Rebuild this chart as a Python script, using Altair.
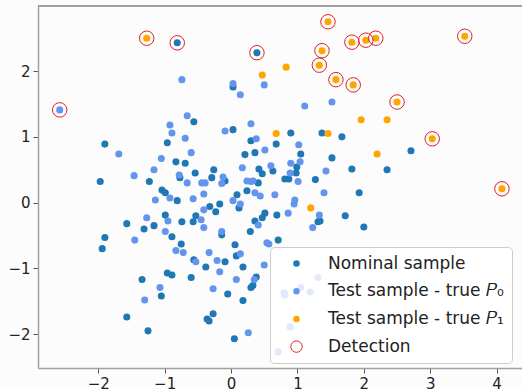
import altair as alt
import pandas as pd

# Nominal sample (dark blue)
nominal_x = [-0.81, 0.39, 2.71, 1.82, 2.35, 1.67, 0.90, 1.37, 0.68, 0.36, 1.05, 1.52, 0.99, 0.42, 0.63,
             0.98, 0.47, 0.81, 0.87, 1.27, 0.41, -0.56, 0.03, 0.03, -0.96, 0.30, 0.21, -0.83, -0.69,
             -0.26, -0.54, -0.77, -0.29, -0.09, -1.90, -1.97, -1.23, -1.04, -0.99, -1.57, -1.31, -1.16,
             -1.90, -1.94, -1.34, -1.05, -1.57, -1.25, -0.81, 0.09, 0.24, 0.12, -0.17, -0.32, -0.23,
             -0.53, -0.57, -0.74, -0.99, -0.89, -0.14, 0.29, -0.75, 0.06, 0.08, -0.56, -0.09, -0.38,
             0.18, -0.96, -0.89, -0.60, 0.30, -0.05, 0.18, -0.27, -0.36, -0.33, 0.05, 1.93, 1.72, 2.00,
             1.34, 1.31, 0.69, 0.51, 0.47, 0.36, 0.71, 0.38, 0.33]
nominal_y = [2.43, 2.28, 0.79, 0.51, 0.50, 1.00, 1.06, 1.06, 0.89, 0.76, 0.74, 0.68, 0.54, 0.51, 0.48,
             0.45, 0.44, 0.36, 0.36, 0.35, 0.30, 1.23, 1.11, 1.76, 0.91, 0.94, 0.73, 0.62, 0.60,
             0.50, 0.45, 0.38, 0.38, 0.33, 0.89, 0.32, 0.32, 0.19, 0.15, -0.32, -0.40, -0.35,
             -0.53, -0.70, -1.17, -1.42, -1.74, -1.95, 0.03, 0.12, 0.18, -0.08, -0.02, -0.06, -0.14,
             -0.20, -0.29, -0.29, -0.19, -0.52, -0.49, -0.44, -0.63, -0.64, -0.81, -0.87, -0.90, -0.98,
             -0.98, -1.07, -1.10, -1.14, -1.29, -1.39, -1.49, -1.69, -1.77, -1.80, -2.07, 0.15, -0.20, -0.37,
             -0.28, -0.29, -0.19, -0.16, -0.23, -0.28, -0.57, -1.13, -1.26]

# Test sample - true P0 (light blue)
p0_x = [-2.58, 0.50, 1.11, 1.52, 0.38, 1.02, 0.51, 1.04, 0.90, 0.60, 0.89, 1.43, 1.01, 0.33,
        -0.74, 0.03, 0.14, -0.66, -0.92, -0.89, -0.09, 0.30, -0.69, -0.60, 0.17, -1.05, -0.78,
        -0.66, -0.44, -0.39, -0.14, 0.24, 0.30, -0.12, -1.69, -1.16, -1.46, -1.14, -1.27, -1.45,
        -1.07, -1.30, -0.92, -0.57, -0.41, 0.03, 0.14, -0.41, -0.45, -0.95, -0.41, -0.99, -0.14,
        -0.83, -0.72, 0.14, -0.33, -0.53, -0.21, -0.17, 0.08, -0.27, 0.26, 0.44, 0.36, 0.66, 1.40,
        0.96, 0.95, 1.33, 1.23, 0.86, 0.41, 0.54, 0.57, 0.50, 0.35, 0.80, 0.81, 1.05, 1.19, 1.31,
        0.89, 0.71]
p0_y = [1.41, 1.79, 1.47, 1.53, 0.97, 0.88, 0.80, 0.62, 0.60, 0.56, 0.45, 0.48, 0.32, 0.33,
        1.87, 1.81, 1.64, 1.32, 1.18, 1.06, 1.09, 1.20, 0.98, 0.76, 0.53, 0.67, 0.42,
        0.30, 0.30, 0.30, 0.29, 0.33, 0.32, 0.39, 0.74, 0.50, 0.41, 0.04, -0.23, -0.57,
        -1.29, -1.48, 0.07, 0.06, 0.13, 0.03, -0.02, -0.11, -0.26, -0.28, -0.38, -0.44, -0.44,
        -0.73, -0.76, -0.78, -0.76, -0.90, -0.88, -1.05, -1.17, -1.31, -1.98, 0.10, 0.15, 0.12, 0.15,
        0.04, -0.02, -0.19, -0.38, -0.16, -0.34, -0.61, -0.63, -0.95, -1.17, -1.37, -1.41, -1.29, -1.36, -1.14,
        -1.89, -2.27]

# Test sample - true P1 (orange)
p1_x = [-1.27, 1.46, 1.37, 1.33, 1.58, 1.82, 2.03, 2.18, 1.84, 2.50, 3.03, 3.52, 4.08,
        0.83, 0.47, 0.68, 1.46, 1.96, 2.35, 2.20, 1.20]
p1_y = [2.50, 2.75, 2.31, 2.09, 1.87, 2.44, 2.47, 2.50, 1.79, 1.53, 0.97, 2.53, 0.21,
        2.06, 1.94, 1.05, 1.05, 1.26, 1.26, 0.74, -0.08]

# Detections (red open circles)
det_x = [-1.27, 1.46, 1.37, 1.33, 1.58, 1.82, 2.03, 2.18, 1.84, 2.50, 3.03, 3.52, 4.08, -0.81, 0.39, -2.58]
det_y = [2.50, 2.75, 2.31, 2.09, 1.87, 2.44, 2.47, 2.50, 1.79, 1.53, 0.97, 2.53, 0.21, 2.43, 2.28, 1.41]

labels = ["Nominal sample", "Test sample - true 𝑃₀", "Test sample - true 𝑃₁", "Detection"]
fills = ["#1f77b4", "#6495ed", "#ffa500", "transparent"]
strokes = ["transparent", "transparent", "transparent", "#e02020"]
sizes = [42, 42, 42, 130]

rows = []
for i, (xs, ys) in enumerate([(nominal_x, nominal_y), (p0_x, p0_y), (p1_x, p1_y)]):
    for k, (a, b) in enumerate(zip(xs, ys)):
        rows.append({"x": a, "y": b, "series": labels[i], "ord": i * 1000 + k})
pts = pd.DataFrame(rows)
dets = pd.DataFrame({"x": det_x, "y": det_y, "series": labels[3]})

font = "DejaVu Sans"
xscale = alt.Scale(domain=[-2.907, 4.382], nice=False, zero=False)
yscale = alt.Scale(domain=[-2.515, 2.99], nice=False, zero=False)
axis_common = dict(grid=False, domainColor="#a0a0a0", domainWidth=1.5, tickColor="#555555",
                   tickSize=5, tickWidth=1, labelFont=font, labelFontSize=15, labelColor="#222222",
                   labelPadding=3, title=None)

legend = alt.Legend(
    title=None, orient="none", legendX=232, legendY=241,
    fillColor="rgba(255,255,255,0.8)", strokeColor="#cccccc", cornerRadius=4,
    padding=8, symbolOffset=10, labelOffset=23, rowPadding=9.7, labelLimit=400,
    labelFont=font, labelFontSize=17, labelColor="#222222", symbolType="circle",
    symbolStrokeWidth=1, zindex=1,
)
fill = alt.Fill("series:N", scale=alt.Scale(domain=labels, range=fills), legend=legend)
stroke = alt.Stroke("series:N", scale=alt.Scale(domain=labels, range=strokes), legend=legend)
size = alt.Size("series:N", scale=alt.Scale(type="ordinal", domain=labels, range=sizes), legend=legend)

points = alt.Chart(pts).mark_point(shape="circle", filled=True, opacity=1, strokeWidth=1, size=50).encode(
    x=alt.X("x:Q", scale=xscale, axis=alt.Axis(values=[-2, -1, 0, 1, 2, 3, 4], format="d", **axis_common)),
    y=alt.Y("y:Q", scale=yscale, axis=alt.Axis(values=[-2, -1, 0, 1, 2], format="d", **axis_common)),
    fill=fill, stroke=stroke,
    order=alt.Order("ord:Q"),
)

rings = alt.Chart(dets).mark_point(shape="circle", filled=False, strokeWidth=1, opacity=1, size=210).encode(
    x=alt.X("x:Q", scale=xscale),
    y=alt.Y("y:Q", scale=yscale),
    fill=fill, stroke=stroke,
)

# invisible layer carrying the size channel so the legend gets per-entry symbol sizes
legend_sizes = alt.Chart(dets).mark_point(shape="circle", opacity=0).encode(
    x=alt.X("x:Q", scale=xscale),
    y=alt.Y("y:Q", scale=yscale),
    fill=fill, stroke=stroke, size=size,
)

top_spine = alt.Chart(dets).mark_rule(color="#a0a0a0", strokeWidth=1.5).encode(
    x=alt.value(0), x2=alt.value(484), y=alt.value(0)
)

chart = alt.layer(points, rings, legend_sizes, top_spine).properties(
    width=484, height=362,
    autosize=alt.AutoSizeParams(type="none"),
    padding={"left": 38, "top": 6, "right": 0, "bottom": 21},
    background="#fcfcfc",
).configure_view(stroke=None)

chart.save("out.html", embed_options={"renderer": "svg", "actions": False})
